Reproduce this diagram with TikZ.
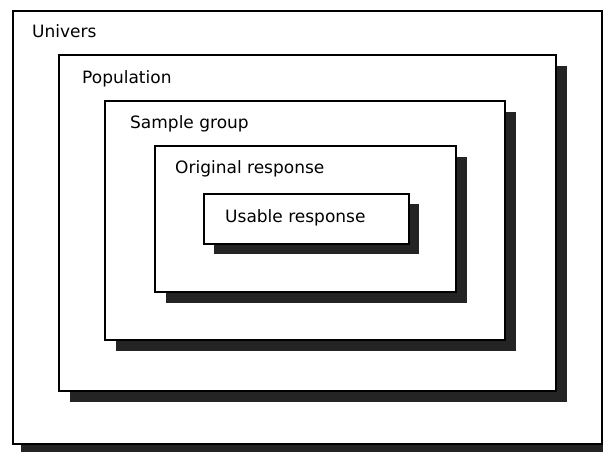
\documentclass[tikz,border=0pt]{standalone}
\usepackage{fontspec}
\setmainfont{DejaVu Sans}
\usetikzlibrary{shadows}
\definecolor{shadowgray}{rgb}{0.14,0.14,0.14}
\begin{document}
\begin{tikzpicture}[x=1pt,y=-1pt,
  setbox/.style={draw=black, fill=white, line width=1.8pt, rectangle,
    inner sep=0pt, anchor=north west,
    general shadow={fill=shadowgray, shadow xshift=#1, shadow yshift=-#1}},
  setbox/.default=11pt,
  setlabel/.style={anchor=base west, inner sep=0pt,
    font=\fontsize{17}{20}\selectfont}]
\useasboundingbox (0,0) rectangle (603,451);
\fill[white] (0,0) rectangle (603,451);

% nested sets, outermost first
\node[setbox=8.5pt, minimum width=589pt, minimum height=433pt] (univ) at (12,10) {};
\node[setbox, minimum width=497pt, minimum height=336pt] (pop) at (58,54) {};
\node[setbox, minimum width=400pt, minimum height=239pt] (sample) at (104,100) {};
\node[setbox, minimum width=301pt, minimum height=146pt] (orig) at (154,145) {};
\node[setbox=10.5pt, minimum width=205pt, minimum height=50pt] (usable) at (203,193) {};

% set names
\node[setlabel] (tuniv) at ([shift={(20,27)}]univ.north west) {Univers};
\node[setlabel] (tpop) at ([shift={(24,29)}]pop.north west) {Population};
\node[setlabel] (tsample) at ([shift={(26,28)}]sample.north west) {Sample group};
\node[setlabel] (torig) at ([shift={(21,28)}]orig.north west) {Original response};
\node[setlabel] (tusable) at ([shift={(22,29)}]usable.north west) {Usable response};
\end{tikzpicture}
\end{document}
